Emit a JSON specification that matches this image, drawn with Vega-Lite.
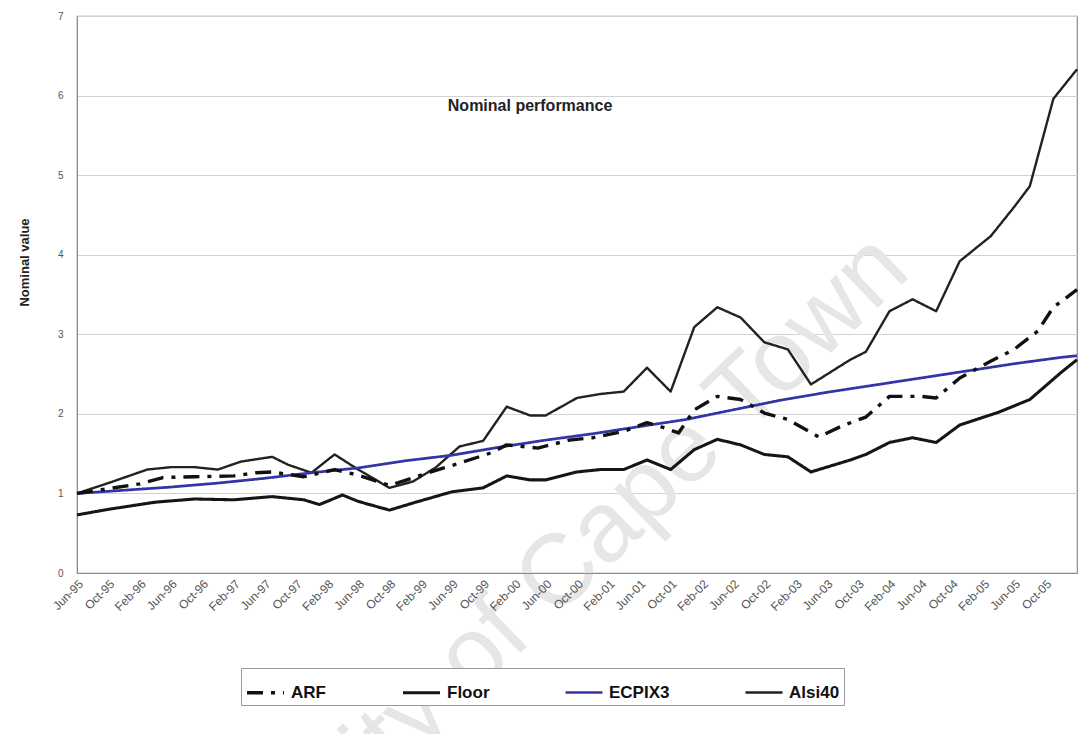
{
  "$schema": "https://vega.github.io/schema/vega-lite/v6.json",
  "width": 1000,
  "height": 557,
  "autosize": {"type": "none"},
  "padding": {"left": 77, "top": 16, "right": 1, "bottom": 161},
  "background": "white",
  "config": {"font": "Liberation Sans", "view": {"stroke": "#8a8a8a", "strokeWidth": 1.2}},
  "datasets": {
    "series": [
      {"s": "Alsi40", "d": "1995-06-01", "v": 1.00},
      {"s": "Alsi40", "d": "1995-10-01", "v": 1.13},
      {"s": "Alsi40", "d": "1996-03-01", "v": 1.30},
      {"s": "Alsi40", "d": "1996-06-01", "v": 1.33},
      {"s": "Alsi40", "d": "1996-09-01", "v": 1.33},
      {"s": "Alsi40", "d": "1996-12-01", "v": 1.30},
      {"s": "Alsi40", "d": "1997-03-01", "v": 1.40},
      {"s": "Alsi40", "d": "1997-07-01", "v": 1.46},
      {"s": "Alsi40", "d": "1997-09-01", "v": 1.36},
      {"s": "Alsi40", "d": "1997-12-01", "v": 1.26},
      {"s": "Alsi40", "d": "1998-03-01", "v": 1.49},
      {"s": "Alsi40", "d": "1998-06-01", "v": 1.30},
      {"s": "Alsi40", "d": "1998-10-01", "v": 1.07},
      {"s": "Alsi40", "d": "1999-01-01", "v": 1.15},
      {"s": "Alsi40", "d": "1999-04-01", "v": 1.33},
      {"s": "Alsi40", "d": "1999-07-01", "v": 1.59},
      {"s": "Alsi40", "d": "1999-10-01", "v": 1.66},
      {"s": "Alsi40", "d": "2000-01-01", "v": 2.09},
      {"s": "Alsi40", "d": "2000-04-01", "v": 1.98},
      {"s": "Alsi40", "d": "2000-06-01", "v": 1.98},
      {"s": "Alsi40", "d": "2000-10-01", "v": 2.20},
      {"s": "Alsi40", "d": "2001-01-01", "v": 2.25},
      {"s": "Alsi40", "d": "2001-04-01", "v": 2.28},
      {"s": "Alsi40", "d": "2001-07-01", "v": 2.58},
      {"s": "Alsi40", "d": "2001-10-01", "v": 2.28},
      {"s": "Alsi40", "d": "2002-01-01", "v": 3.09},
      {"s": "Alsi40", "d": "2002-04-01", "v": 3.34},
      {"s": "Alsi40", "d": "2002-07-01", "v": 3.21},
      {"s": "Alsi40", "d": "2002-10-01", "v": 2.90},
      {"s": "Alsi40", "d": "2003-01-01", "v": 2.81},
      {"s": "Alsi40", "d": "2003-04-01", "v": 2.37},
      {"s": "Alsi40", "d": "2003-09-01", "v": 2.68},
      {"s": "Alsi40", "d": "2003-11-01", "v": 2.78},
      {"s": "Alsi40", "d": "2004-02-01", "v": 3.29},
      {"s": "Alsi40", "d": "2004-05-01", "v": 3.44},
      {"s": "Alsi40", "d": "2004-08-01", "v": 3.29},
      {"s": "Alsi40", "d": "2004-11-01", "v": 3.92},
      {"s": "Alsi40", "d": "2005-03-01", "v": 4.23},
      {"s": "Alsi40", "d": "2005-06-01", "v": 4.60},
      {"s": "Alsi40", "d": "2005-08-01", "v": 4.86},
      {"s": "Alsi40", "d": "2005-11-01", "v": 5.96},
      {"s": "Alsi40", "d": "2006-02-01", "v": 6.33},

      {"s": "Floor", "d": "1995-06-01", "v": 0.73},
      {"s": "Floor", "d": "1995-10-01", "v": 0.80},
      {"s": "Floor", "d": "1996-04-01", "v": 0.89},
      {"s": "Floor", "d": "1996-09-01", "v": 0.93},
      {"s": "Floor", "d": "1997-02-01", "v": 0.92},
      {"s": "Floor", "d": "1997-07-01", "v": 0.96},
      {"s": "Floor", "d": "1997-11-01", "v": 0.92},
      {"s": "Floor", "d": "1998-01-01", "v": 0.86},
      {"s": "Floor", "d": "1998-04-01", "v": 0.98},
      {"s": "Floor", "d": "1998-06-01", "v": 0.90},
      {"s": "Floor", "d": "1998-10-01", "v": 0.79},
      {"s": "Floor", "d": "1999-01-01", "v": 0.88},
      {"s": "Floor", "d": "1999-06-01", "v": 1.02},
      {"s": "Floor", "d": "1999-10-01", "v": 1.07},
      {"s": "Floor", "d": "2000-01-01", "v": 1.22},
      {"s": "Floor", "d": "2000-04-01", "v": 1.17},
      {"s": "Floor", "d": "2000-06-01", "v": 1.17},
      {"s": "Floor", "d": "2000-10-01", "v": 1.27},
      {"s": "Floor", "d": "2001-01-01", "v": 1.30},
      {"s": "Floor", "d": "2001-04-01", "v": 1.30},
      {"s": "Floor", "d": "2001-07-01", "v": 1.42},
      {"s": "Floor", "d": "2001-10-01", "v": 1.30},
      {"s": "Floor", "d": "2002-01-01", "v": 1.55},
      {"s": "Floor", "d": "2002-04-01", "v": 1.68},
      {"s": "Floor", "d": "2002-07-01", "v": 1.61},
      {"s": "Floor", "d": "2002-10-01", "v": 1.49},
      {"s": "Floor", "d": "2003-01-01", "v": 1.46},
      {"s": "Floor", "d": "2003-04-01", "v": 1.27},
      {"s": "Floor", "d": "2003-09-01", "v": 1.42},
      {"s": "Floor", "d": "2003-11-01", "v": 1.49},
      {"s": "Floor", "d": "2004-02-01", "v": 1.64},
      {"s": "Floor", "d": "2004-05-01", "v": 1.70},
      {"s": "Floor", "d": "2004-08-01", "v": 1.64},
      {"s": "Floor", "d": "2004-11-01", "v": 1.86},
      {"s": "Floor", "d": "2005-04-01", "v": 2.02},
      {"s": "Floor", "d": "2005-08-01", "v": 2.18},
      {"s": "Floor", "d": "2005-12-01", "v": 2.52},
      {"s": "Floor", "d": "2006-02-01", "v": 2.68},

      {"s": "ECPIX3", "d": "1995-06-01", "v": 1.00},
      {"s": "ECPIX3", "d": "1995-12-01", "v": 1.04},
      {"s": "ECPIX3", "d": "1996-06-01", "v": 1.08},
      {"s": "ECPIX3", "d": "1996-12-01", "v": 1.13},
      {"s": "ECPIX3", "d": "1997-06-01", "v": 1.19},
      {"s": "ECPIX3", "d": "1997-12-01", "v": 1.26},
      {"s": "ECPIX3", "d": "1998-06-01", "v": 1.32},
      {"s": "ECPIX3", "d": "1998-12-01", "v": 1.41},
      {"s": "ECPIX3", "d": "1999-06-01", "v": 1.48},
      {"s": "ECPIX3", "d": "1999-12-01", "v": 1.58},
      {"s": "ECPIX3", "d": "2000-06-01", "v": 1.67},
      {"s": "ECPIX3", "d": "2000-12-01", "v": 1.75},
      {"s": "ECPIX3", "d": "2001-06-01", "v": 1.84},
      {"s": "ECPIX3", "d": "2001-12-01", "v": 1.93},
      {"s": "ECPIX3", "d": "2002-06-01", "v": 2.05},
      {"s": "ECPIX3", "d": "2002-12-01", "v": 2.17},
      {"s": "ECPIX3", "d": "2003-06-01", "v": 2.27},
      {"s": "ECPIX3", "d": "2003-12-01", "v": 2.36},
      {"s": "ECPIX3", "d": "2004-06-01", "v": 2.45},
      {"s": "ECPIX3", "d": "2004-12-01", "v": 2.54},
      {"s": "ECPIX3", "d": "2005-06-01", "v": 2.63},
      {"s": "ECPIX3", "d": "2005-12-01", "v": 2.71},
      {"s": "ECPIX3", "d": "2006-02-01", "v": 2.73},

      {"s": "ARF", "d": "1995-06-01", "v": 1.00},
      {"s": "ARF", "d": "1995-10-01", "v": 1.06},
      {"s": "ARF", "d": "1996-02-01", "v": 1.12},
      {"s": "ARF", "d": "1996-05-01", "v": 1.20},
      {"s": "ARF", "d": "1996-09-01", "v": 1.21},
      {"s": "ARF", "d": "1997-02-01", "v": 1.22},
      {"s": "ARF", "d": "1997-05-01", "v": 1.26},
      {"s": "ARF", "d": "1997-07-01", "v": 1.27},
      {"s": "ARF", "d": "1997-11-01", "v": 1.21},
      {"s": "ARF", "d": "1998-03-01", "v": 1.30},
      {"s": "ARF", "d": "1998-06-01", "v": 1.23},
      {"s": "ARF", "d": "1998-10-01", "v": 1.10},
      {"s": "ARF", "d": "1999-02-01", "v": 1.23},
      {"s": "ARF", "d": "1999-05-01", "v": 1.32},
      {"s": "ARF", "d": "1999-07-01", "v": 1.38},
      {"s": "ARF", "d": "1999-11-01", "v": 1.51},
      {"s": "ARF", "d": "2000-01-01", "v": 1.61},
      {"s": "ARF", "d": "2000-05-01", "v": 1.57},
      {"s": "ARF", "d": "2000-09-01", "v": 1.67},
      {"s": "ARF", "d": "2000-12-01", "v": 1.70},
      {"s": "ARF", "d": "2001-04-01", "v": 1.78},
      {"s": "ARF", "d": "2001-07-01", "v": 1.89},
      {"s": "ARF", "d": "2001-09-01", "v": 1.83},
      {"s": "ARF", "d": "2001-11-01", "v": 1.76},
      {"s": "ARF", "d": "2002-01-01", "v": 2.05},
      {"s": "ARF", "d": "2002-04-01", "v": 2.22},
      {"s": "ARF", "d": "2002-07-01", "v": 2.18},
      {"s": "ARF", "d": "2002-10-01", "v": 2.01},
      {"s": "ARF", "d": "2003-01-01", "v": 1.93},
      {"s": "ARF", "d": "2003-05-01", "v": 1.71},
      {"s": "ARF", "d": "2003-08-01", "v": 1.85},
      {"s": "ARF", "d": "2003-11-01", "v": 1.96},
      {"s": "ARF", "d": "2004-02-01", "v": 2.22},
      {"s": "ARF", "d": "2004-06-01", "v": 2.22},
      {"s": "ARF", "d": "2004-08-01", "v": 2.20},
      {"s": "ARF", "d": "2004-11-01", "v": 2.45},
      {"s": "ARF", "d": "2005-03-01", "v": 2.66},
      {"s": "ARF", "d": "2005-06-01", "v": 2.81},
      {"s": "ARF", "d": "2005-09-01", "v": 3.04},
      {"s": "ARF", "d": "2005-11-01", "v": 3.34},
      {"s": "ARF", "d": "2006-02-01", "v": 3.56}
    ]
  },
  "layer": [
    {
      "data": {"values": [{}]},
      "mark": {"type": "text", "text": "University of Cape Town", "fontSize": 100, "angle": -44, "align": "center", "baseline": "middle", "color": "#e6e6e6"},
      "encoding": {
        "x": {"datum": {"year": 1999, "month": 12, "date": 24, "utc": true}, "type": "temporal"},
        "y": {"datum": -0.67, "type": "quantitative"}
      }
    },
    {
      "data": {"name": "series"},
      "mark": {"type": "line", "strokeJoin": "round", "strokeCap": "butt"},
      "encoding": {
        "x": {
          "field": "d", "type": "temporal",
          "scale": {"type": "utc", "domain": [{"year": 1995, "month": 6, "date": 1, "utc": true}, {"year": 2006, "month": 2, "date": 1, "utc": true}]},
          "axis": {
            "title": null, "format": "%b-%y", "labelAngle": -45, "labelFontSize": 12, "labelColor": "#555",
            "ticks": false, "grid": false, "domainColor": "#8a8a8a", "labelPadding": 5, "tickCount": 64, "zindex": 1,
            "labelOverlap": false, "labelBound": false, "labelFlush": false,
            "values": [
              {"year": 1995, "month": 6, "date": 1, "utc": true},
              {"year": 1995, "month": 10, "date": 1, "utc": true},
              {"year": 1996, "month": 2, "date": 1, "utc": true},
              {"year": 1996, "month": 6, "date": 1, "utc": true},
              {"year": 1996, "month": 10, "date": 1, "utc": true},
              {"year": 1997, "month": 2, "date": 1, "utc": true},
              {"year": 1997, "month": 6, "date": 1, "utc": true},
              {"year": 1997, "month": 10, "date": 1, "utc": true},
              {"year": 1998, "month": 2, "date": 1, "utc": true},
              {"year": 1998, "month": 6, "date": 1, "utc": true},
              {"year": 1998, "month": 10, "date": 1, "utc": true},
              {"year": 1999, "month": 2, "date": 1, "utc": true},
              {"year": 1999, "month": 6, "date": 1, "utc": true},
              {"year": 1999, "month": 10, "date": 1, "utc": true},
              {"year": 2000, "month": 2, "date": 1, "utc": true},
              {"year": 2000, "month": 6, "date": 1, "utc": true},
              {"year": 2000, "month": 10, "date": 1, "utc": true},
              {"year": 2001, "month": 2, "date": 1, "utc": true},
              {"year": 2001, "month": 6, "date": 1, "utc": true},
              {"year": 2001, "month": 10, "date": 1, "utc": true},
              {"year": 2002, "month": 2, "date": 1, "utc": true},
              {"year": 2002, "month": 6, "date": 1, "utc": true},
              {"year": 2002, "month": 10, "date": 1, "utc": true},
              {"year": 2003, "month": 2, "date": 1, "utc": true},
              {"year": 2003, "month": 6, "date": 1, "utc": true},
              {"year": 2003, "month": 10, "date": 1, "utc": true},
              {"year": 2004, "month": 2, "date": 1, "utc": true},
              {"year": 2004, "month": 6, "date": 1, "utc": true},
              {"year": 2004, "month": 10, "date": 1, "utc": true},
              {"year": 2005, "month": 2, "date": 1, "utc": true},
              {"year": 2005, "month": 6, "date": 1, "utc": true},
              {"year": 2005, "month": 10, "date": 1, "utc": true}
            ]
          }
        },
        "y": {
          "field": "v", "type": "quantitative",
          "scale": {"domain": [0, 7], "nice": false},
          "axis": {
            "values": [0, 1, 2, 3, 4, 5, 6, 7], "format": "d", "title": "Nominal value", "titleFontSize": 13, "titleFontWeight": "bold",
            "titleColor": "#222", "titlePadding": 26, "titleY": 246, "labelFontSize": 10, "labelColor": "#555", "ticks": false,
            "labelPadding": 14, "grid": true, "gridColor": "#d2d2d2", "domainColor": "#8a8a8a"
          }
        },
        "color": {
          "field": "s", "type": "nominal",
          "scale": {"domain": ["ARF", "Floor", "ECPIX3", "Alsi40"], "range": ["#111111", "#151515", "#3434a8", "#222222"]},
          "legend": {
            "title": null, "orient": "none", "legendX": 164, "legendY": 652, "direction": "horizontal",
            "symbolType": "stroke", "symbolStrokeWidth": 3, "symbolSize": 1369, "labelFontSize": 17,
            "labelFontWeight": "bold", "labelColor": "#111", "labelOffset": 5, "columnPadding": 70,
            "padding": 4, "strokeColor": "#9a9a9a", "fillColor": "white"
          }
        },
        "strokeDash": {
          "field": "s", "type": "nominal",
          "scale": {"domain": ["ARF", "Floor", "ECPIX3", "Alsi40"], "range": [[16, 8, 4, 8], [1, 0], [1, 0], [1, 0]]},
          "legend": null
        },
        "strokeWidth": {
          "field": "s", "type": "ordinal",
          "scale": {"domain": ["ARF", "Floor", "ECPIX3", "Alsi40"], "range": [3.4, 2.4, 2, 1.6]},
          "legend": null
        }
      }
    },
    {
      "data": {"values": [{}]},
      "mark": {"type": "text", "text": "Nominal performance", "fontSize": 16, "fontWeight": "bold", "color": "#222", "align": "center", "baseline": "middle"},
      "encoding": {
        "x": {"datum": {"year": 2000, "month": 4, "date": 1, "utc": true}, "type": "temporal"},
        "y": {"datum": 5.87, "type": "quantitative"}
      }
    }
  ]
}
